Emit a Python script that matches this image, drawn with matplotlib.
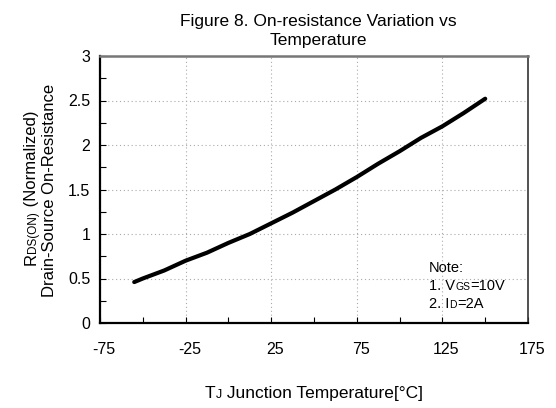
import matplotlib
matplotlib.use("Agg")
import matplotlib.pyplot as plt
import matplotlib.transforms as mtransforms
from matplotlib.ticker import MultipleLocator

plt.rcParams["font.family"] = ["Liberation Sans", "DejaVu Sans"]
plt.rcParams["axes.unicode_minus"] = False

# values
temp_c = [-55, -50, -37.5, -25, -12.5, 0, 12.5, 25, 37.5, 50, 62.5, 75,
          87.5, 100, 112.5, 125, 137.5, 150]
rds_norm = [0.46, 0.50, 0.59, 0.70, 0.79, 0.90, 1.00, 1.12, 1.24, 1.37, 1.50, 1.64,
            1.79, 1.93, 2.08, 2.21, 2.36, 2.52]

x_ticks = [-75, -25, 25, 75, 125, 175]
y_ticks = [0, 0.5, 1, 1.5, 2, 2.5, 3]
y_labels = ["0", "0.5", "1", "1.5", "2", "2.5", "3"]

fig = plt.figure(figsize=(5.56, 4.08), dpi=100)
ax = fig.add_axes([100 / 556, 1 - 323 / 408, 428 / 556, 267 / 408])

ax.plot(temp_c, rds_norm, color="black", linewidth=3.0,
        solid_capstyle="round", solid_joinstyle="round")

ax.set_xlim(-75, 175)
ax.set_ylim(0, 3)
ax.set_xticks(x_ticks)
ax.set_yticks(y_ticks)
ax.set_yticklabels(y_labels)
ax.xaxis.set_minor_locator(MultipleLocator(25))
ax.yaxis.set_minor_locator(MultipleLocator(0.25))
ax.tick_params(which="both", direction="in", top=False, right=False,
               labelsize=11.5, colors="black", length=4, width=0.8)
ax.tick_params(axis="x", pad=14)
ax.tick_params(axis="y", pad=7)
ax.grid(True, which="major", linestyle=(0, (1, 2.5)), color="#aaaaaa", linewidth=0.8)

# x labels sit a little right of their ticks in the original
shift = mtransforms.ScaledTranslation(4 / 100, 0, fig.dpi_scale_trans)
for lab in ax.get_xticklabels():
    lab.set_transform(lab.get_transform() + shift)

for side in ["left", "bottom"]:
    ax.spines[side].set_linewidth(1.6)
ax.spines["right"].set_linewidth(1.2)
ax.spines["right"].set_color("#333333")
ax.spines["top"].set_linewidth(1.8)
ax.spines["top"].set_color("#777777")

fig.text(318 / 556, 1 - 31 / 408, "Figure 8. On-resistance Variation vs\nTemperature",
         ha="center", va="center", fontsize=12.5, linespacing=1.3)

fig.canvas.draw()
renderer = fig.canvas.get_renderer()


def runs(x, y, parts, rotation=0, ha="left"):
    # place text pieces of different sizes one after another on one baseline
    inv = fig.transFigure.inverted()
    objs = []
    for text, size in parts:
        t = fig.text(x, y, text, fontsize=size, rotation=rotation,
                     ha="left", va="baseline", rotation_mode="anchor")
        objs.append(t)
    widths = []
    for t in objs:
        bb = t.get_window_extent(renderer)
        widths.append(bb.width if rotation == 0 else bb.height)
    x0, y0 = fig.transFigure.transform((x, y))
    pos = -sum(widths) / 2 if ha == "center" else 0
    for t, w in zip(objs, widths):
        if rotation == 0:
            t.set_position(inv.transform((x0 + pos, y0)))
        else:
            t.set_position(inv.transform((x0, y0 + pos)))
        pos += w
    return objs


big, small = 12, 8.5
runs(36 / 556, 1 - 188 / 408, [("R", big), ("DS(ON)", small), (" (Normalized)", big)],
     rotation=90, ha="center")
runs(54 / 556, 1 - 190 / 408, [("Drain-Source On-Resistance", big)], rotation=90, ha="center")

runs(314 / 556, 1 - 398 / 408, [("T", 12.5), ("J", 9), (" Junction Temperature[°C]", 12.5)],
     ha="center")

note_x = 429 / 556
runs(note_x, 1 - 272 / 408, [("Note:", 10.5)])
runs(note_x, 1 - 290 / 408, [("1. V", 10.5), ("GS", 7.5), ("=10V", 10.5)])
runs(note_x, 1 - 308 / 408, [("2. I", 10.5), ("D", 7.5), ("=2A", 10.5)])

fig.savefig("out.png", dpi=100)
